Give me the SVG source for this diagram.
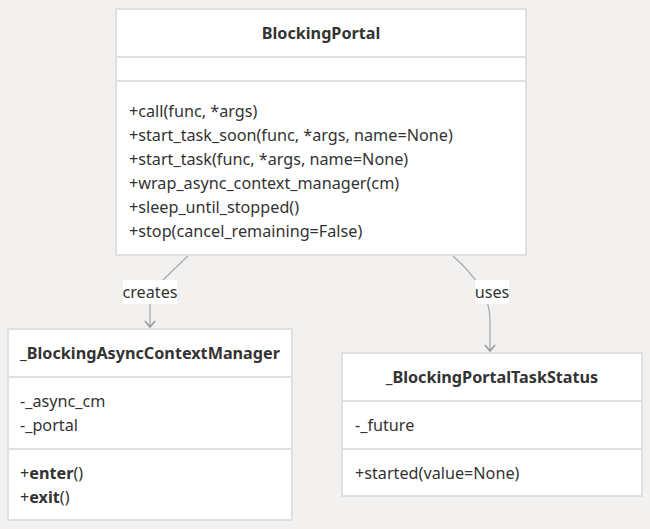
<svg xmlns="http://www.w3.org/2000/svg" width="650" height="529" viewBox="0 0 650 529">
<style>
text{font-family:"Noto Sans","Open Sans","Liberation Sans",sans-serif;font-size:16.2px;fill:#333}
.t{font-weight:bold;text-anchor:middle}
.b{font-weight:bold}
.box{fill:#fff;stroke:#e0e0e0;stroke-width:2}
.div{stroke:#e0e0e0;stroke-width:2}
.edge{fill:none;stroke:#aaa;stroke-width:1.3}
.lbl{fill:#fff}
</style>
<defs>
<marker id="arr" viewBox="0 0 12 12" refX="11" refY="6" markerWidth="12" markerHeight="12" markerUnits="userSpaceOnUse" orient="auto">
<path d="M5,1 L11,6 L5,11" fill="none" stroke="#999" stroke-width="1.6"/>
</marker>
</defs>
<rect width="650" height="529" fill="#f2f1ef"/>
<g id="connectors">
<path class="edge" d="M188,256 C165,278 150,290 150,304 L150,327" marker-end="url(#arr)"/>
<path class="edge" d="M453,256 C475,276 490,295 490,320 L490,351" marker-end="url(#arr)"/>
<rect class="lbl" x="123" y="280" width="54" height="24"/>
<text x="150" y="298" text-anchor="middle">creates</text>
<rect class="lbl" x="475" y="280" width="34" height="24"/>
<text x="492" y="298" text-anchor="middle">uses</text>
</g>
<g id="BlockingPortal">
<rect class="box" x="116" y="9" width="410" height="246"/>
<line class="div" x1="116" y1="57" x2="526" y2="57"/>
<line class="div" x1="116" y1="81" x2="526" y2="81"/>
<text class="t" x="321" y="39">BlockingPortal</text>
<text x="129" y="117">+call(func, *args)</text>
<text x="129" y="141">+start_task_soon(func, *args, name=None)</text>
<text x="129" y="165">+start_task(func, *args, name=None)</text>
<text x="129" y="189">+wrap_async_context_manager(cm)</text>
<text x="129" y="213">+sleep_until_stopped()</text>
<text x="129" y="237">+stop(cancel_remaining=False)</text>
</g>
<g id="BlockingAsyncContextManager">
<rect class="box" x="8" y="329" width="284" height="191"/>
<line class="div" x1="8" y1="377" x2="292" y2="377"/>
<line class="div" x1="8" y1="449" x2="292" y2="449"/>
<text class="t" x="150" y="359">_BlockingAsyncContextManager</text>
<text x="20" y="407">-_async_cm</text>
<text x="20" y="431">-_portal</text>
<text x="20" y="479">+<tspan class="b">enter</tspan>()</text>
<text x="20" y="503">+<tspan class="b">exit</tspan>()</text>
</g>
<g id="BlockingPortalTaskStatus">
<rect class="box" x="342" y="353" width="300" height="143"/>
<line class="div" x1="342" y1="401" x2="642" y2="401"/>
<line class="div" x1="342" y1="449" x2="642" y2="449"/>
<text class="t" x="492" y="383">_BlockingPortalTaskStatus</text>
<text x="355" y="431">-_future</text>
<text x="355" y="479">+started(value=None)</text>
</g>
</svg>
